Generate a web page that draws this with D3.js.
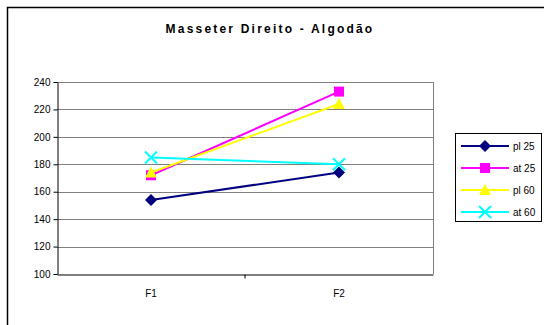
<!DOCTYPE html>
<html>
<head>
<meta charset="utf-8">
<script src="https://cdn.jsdelivr.net/npm/d3@7"></script>
<style>
  body { margin: 0; background: #fff; }
  svg { display: block; font-family: "Liberation Sans", Arial, sans-serif; }
</style>
</head>
<body>
<div id="chart"></div>
<script>
// data
var categories = ["F1", "F2"]
var seriesNames = ["pl 25", "at 25", "pl 60", "at 60"]
var pl25 = [154, 174]
var at25 = [172, 233]
var pl60 = [174, 224]
var at60 = [185, 180]
var yTicks = [100, 120, 140, 160, 180, 200, 220, 240]

var colors = ["#000080", "#ff00ff", "#ffff00", "#00ffff"]
var markers = ["diamond", "square", "triangle", "x"]
var seriesValues = [pl25, at25, pl60, at60]

const W = 544, H = 325
const plot = { left: 57, right: 433, top: 82, bottom: 274 }

const svg = d3.select("#chart").append("svg")
    .attr("width", W).attr("height", H)

// outer chart frame (only top & left visible, rest cut off)
svg.append("rect")
    .attr("x", 7.5).attr("y", 7.5)
    .attr("width", W + 10).attr("height", H + 10)
    .attr("fill", "none").attr("stroke", "#000").attr("stroke-width", 1.5)

svg.append("text")
    .attr("x", 270).attr("y", 33)
    .attr("text-anchor", "middle")
    .attr("font-size", 12).attr("font-weight", "bold")
    .attr("letter-spacing", 2.2)
    .text("Masseter Direito - Algodão")

const x = d3.scaleBand().domain(categories).range([plot.left, plot.right])
const y = d3.scaleLinear().domain([100, 240]).range([plot.bottom, plot.top])

// gridlines
svg.append("g").selectAll("line")
    .data(yTicks.slice(1))
    .join("line")
    .attr("x1", plot.left).attr("x2", plot.right)
    .attr("y1", d => Math.round(y(d)) + 0.5).attr("y2", d => Math.round(y(d)) + 0.5)
    .attr("stroke", "#808080").attr("stroke-width", 1)

// plot right border
svg.append("line")
    .attr("x1", plot.right + 0.5).attr("x2", plot.right + 0.5)
    .attr("y1", plot.top).attr("y2", plot.bottom)
    .attr("stroke", "#808080")

// Y axis
const yAxis = svg.append("g")
    .attr("transform", `translate(${plot.left + 0.5},0)`)
    .call(d3.axisLeft(y).tickValues(yTicks).tickSize(4).tickSizeOuter(0))
yAxis.select(".domain").attr("stroke", "#000")
yAxis.selectAll("text").attr("font-size", 10).attr("fill", "#000")
    .attr("font-family", "Liberation Sans, Arial, sans-serif")

// X axis
const xAxis = svg.append("g")
    .attr("transform", `translate(0,${plot.bottom + 0.5})`)
    .call(d3.axisBottom(x).tickSize(0).tickSizeOuter(0))
xAxis.select(".domain").attr("stroke", "#000")
xAxis.selectAll("text").attr("font-size", 10).attr("fill", "#000")
    .attr("dy", "1.9em")
    .attr("font-family", "Liberation Sans, Arial, sans-serif")
// category separator tick
xAxis.append("line")
    .attr("x1", x.range()[0] + x.bandwidth()).attr("x2", x.range()[0] + x.bandwidth())
    .attr("y1", 0).attr("y2", 4).attr("stroke", "#000")

function drawMarker(g, type, color, cx, cy) {
    if (type == "diamond") {
        g.append("path").attr("d", `M${cx},${cy - 6}L${cx + 6},${cy}L${cx},${cy + 6}L${cx - 6},${cy}Z`)
            .attr("fill", color)
    } else if (type == "square") {
        g.append("rect").attr("x", cx - 5).attr("y", cy - 5).attr("width", 10).attr("height", 10)
            .attr("fill", color)
    } else if (type == "triangle") {
        g.append("path").attr("d", `M${cx},${cy - 6}L${cx + 6},${cy + 5}L${cx - 6},${cy + 5}Z`)
            .attr("fill", color)
    } else {
        g.append("path").attr("d", `M${cx - 6},${cy - 6}L${cx + 6},${cy + 6}M${cx + 6},${cy - 6}L${cx - 6},${cy + 6}`)
            .attr("stroke", color).attr("stroke-width", 2)
    }
}

const line = d3.line()
    .x((d, i) => x(categories[i]) + x.bandwidth() / 2)
    .y(d => y(d))

seriesValues.forEach(function (vals, s) {
    const g = svg.append("g")
    g.append("path").datum(vals)
        .attr("d", line)
        .attr("fill", "none").attr("stroke", colors[s]).attr("stroke-width", 2)
    vals.forEach(function (v, i) {
        drawMarker(g, markers[s], colors[s], x(categories[i]) + x.bandwidth() / 2, y(v))
    })
})

// legend
const leg = svg.append("g")
leg.append("rect")
    .attr("x", 455.5).attr("y", 133.5).attr("width", 86).attr("height", 88)
    .attr("fill", "#fff").attr("stroke", "#000")
seriesNames.forEach(function (name, s) {
    const ly = 146 + s * 22
    leg.append("line").attr("x1", 461).attr("x2", 509).attr("y1", ly).attr("y2", ly)
        .attr("stroke", colors[s]).attr("stroke-width", 2)
    drawMarker(leg, markers[s], colors[s], 485, ly)
    leg.append("text").attr("x", 513).attr("y", ly + 4)
        .attr("font-size", 10).text(name)
})
</script>
</body>
</html>
